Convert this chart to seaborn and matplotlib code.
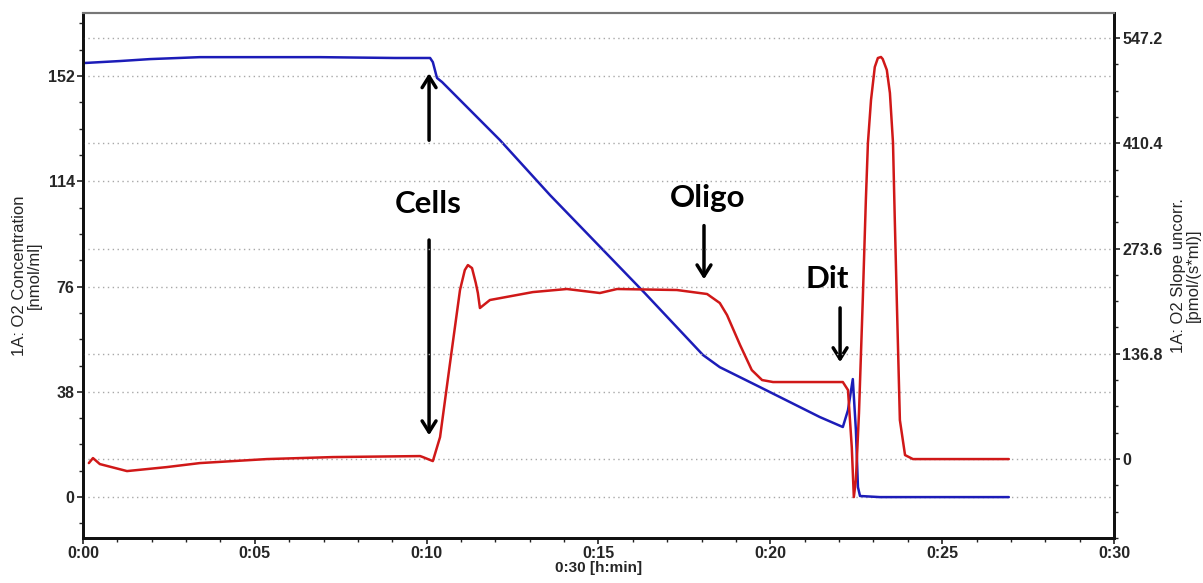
import numpy as np
import pandas as pd
import seaborn as sns
import matplotlib.pyplot as plt
from matplotlib.ticker import MultipleLocator

# O2 concentration trace (left axis), time in minutes
conc_time = [0.06, 1.08, 1.95, 3.40, 6.31, 6.90, 9.08, 10.10, 10.18, 10.30, 10.45,
             12.13, 13.59, 16.35, 18.04, 18.53, 19.70, 21.44, 22.11, 22.26, 22.40,
             22.49, 22.55, 22.61, 23.19, 26.94]
conc_value = [156.7, 157.4, 158.1, 158.8, 158.8, 158.8, 158.5, 158.5, 157.0, 151.3, 149.8,
              128.9, 109.0, 73.6, 51.3, 46.9, 39.7, 28.9, 25.3, 31.4, 42.6,
              24.2, 3.6, 0.4, 0.0, 0.0]

# O2 slope trace (right axis)
slope_time = [0.17, 0.29, 0.49, 1.28, 2.44, 3.40, 5.35, 7.27, 9.81, 9.89, 10.18,
              10.39, 10.68, 10.97, 11.11, 11.20, 11.32, 11.43, 11.49, 11.55, 11.84,
              13.09, 14.08, 15.04, 15.54, 17.28, 18.16, 18.53, 18.74, 19.12, 19.46,
              19.76, 20.08, 22.11, 22.26, 22.37, 22.43, 22.49, 22.58, 22.69, 22.78,
              22.84, 22.93, 23.04, 23.13, 23.22, 23.27, 23.39, 23.48, 23.57, 23.62,
              23.68, 23.77, 23.92, 24.15, 26.94]
slope_value = [-5.2, 1.3, -6.5, -15.6, -10.4, -5.2, 0.0, 2.6, 3.9, 2.6, -2.6,
               28.6, 124.8, 219.7, 245.6, 252.1, 248.2, 228.7, 215.8, 196.3, 206.7,
               217.0, 221.0, 215.8, 221.0, 219.7, 214.5, 202.8, 187.2, 148.2, 115.7,
               102.7, 100.1, 100.1, 89.7, 15.6, -49.4, -27.3, 59.8, 206.7, 336.6,
               410.7, 466.6, 509.5, 521.2, 522.5, 519.9, 505.6, 475.7, 410.7, 314.5,
               206.7, 50.7, 5.2, 0.0, 0.0]

left_ticks = [0, 38, 76, 114, 152]
right_ticks = [0, 136.8, 273.6, 410.4, 547.2]
x_ticks = [0, 5, 10, 15, 20, 25, 30]
x_labels = ["0:00", "0:05", "0:10", "0:15", "0:20", "0:25", "0:30"]

conc = pd.DataFrame({"time": conc_time, "value": conc_value})
slope = pd.DataFrame({"time": slope_time, "value": slope_value})

sns.set_style("white")
plt.rcParams['font.family'] = ['Liberation Sans', 'DejaVu Sans']

fig = plt.figure(figsize=(12.03, 5.83), dpi=100)
ax = fig.add_axes([0.069, 0.077, 0.857, 0.901])
ax2 = ax.twinx()

# Draw the two traces
sns.lineplot(data=conc, x="time", y="value", ax=ax, color="#1c1cb8", linewidth=1.8,
             sort=False, estimator=None)
sns.lineplot(data=slope, x="time", y="value", ax=ax2, color="#d01818", linewidth=1.8,
             sort=False, estimator=None)

# Axis limits
ax.set_xlim(0, 30)
ax.set_ylim(-14.8, 174.8)
ax2.set_ylim(-102.7, 579.9)

# Ticks
tick_font = dict(fontweight="bold", fontsize=11.5)
ax.set_xticks(x_ticks)
ax.set_xticklabels(x_labels, **tick_font)
ax.xaxis.set_minor_locator(MultipleLocator(1))
ax.set_yticks(left_ticks)
ax.set_yticklabels([str(v) for v in left_ticks], **tick_font)
ax.yaxis.set_minor_locator(MultipleLocator(9.5))
ax2.set_yticks(right_ticks)
ax2.set_yticklabels([str(v) if v else "0" for v in right_ticks], **tick_font)
ax2.yaxis.set_minor_locator(MultipleLocator(34.2))
for a in (ax, ax2):
    a.tick_params(which="major", length=4, width=1.2, color="#222222", pad=2)
    a.tick_params(which="minor", length=3, width=1.0, color="#222222")
ax.tick_params(axis="x", which="both", bottom=True, direction="out")
ax.tick_params(axis="y", which="both", left=True, direction="out")
ax2.tick_params(axis="y", which="both", right=True, direction="out")

# Dotted grid for both y scales
ax.grid(axis="y", linestyle=(0, (1, 2.5)), color="#a8a8a8", linewidth=1.0)
ax2.grid(axis="y", linestyle=(0, (1, 2.5)), color="#a8a8a8", linewidth=1.0)
ax.grid(axis="x", visible=False)
ax2.grid(axis="x", visible=False)

# Labels
ax.set_xlabel("0:30 [h:min]", fontsize=11, fontweight="bold", labelpad=0)
ax.set_ylabel("1A: O2 Concentration\n[nmol/ml]", fontsize=12, labelpad=4, linespacing=1.0)
ax2.set_ylabel("1A: O2 Slope uncorr.\n[pmol/(s*ml)]", fontsize=12, labelpad=6, linespacing=1.0)

# Frame
for a in (ax, ax2):
    for side in ("left", "bottom", "right"):
        a.spines[side].set_color("#111111")
        a.spines[side].set_linewidth(2)
    a.spines["top"].set_color("#777777")
    a.spines["top"].set_linewidth(1.5)

# Annotations with arrows (left axis data units)
ann_font = dict(fontsize=22.5, fontweight="bold", family=["Lato", "DejaVu Sans"], color="black")
arrow = dict(arrowstyle="->,head_width=0.5,head_length=0.8", color="black", lw=2.5)
ax.text(10.04, 102.5, "Cells", ha="center", va="baseline", **ann_font)
ax.annotate("", xy=(10.07, 154.0), xytext=(10.07, 127.8), arrowprops=arrow)
ax.annotate("", xy=(10.07, 21.3), xytext=(10.07, 93.8), arrowprops=arrow)
ax.text(18.18, 104.7, "Oligo", ha="center", va="baseline", **ann_font)
ax.annotate("", xy=(18.07, 77.6), xytext=(18.07, 99.0), arrowprops=arrow)
ax.text(21.65, 75.5, "Dit", ha="center", va="baseline", **ann_font)
ax.annotate("", xy=(22.03, 47.7), xytext=(22.03, 69.3), arrowprops=arrow)

fig.savefig("out.png", dpi=100, facecolor="white")
